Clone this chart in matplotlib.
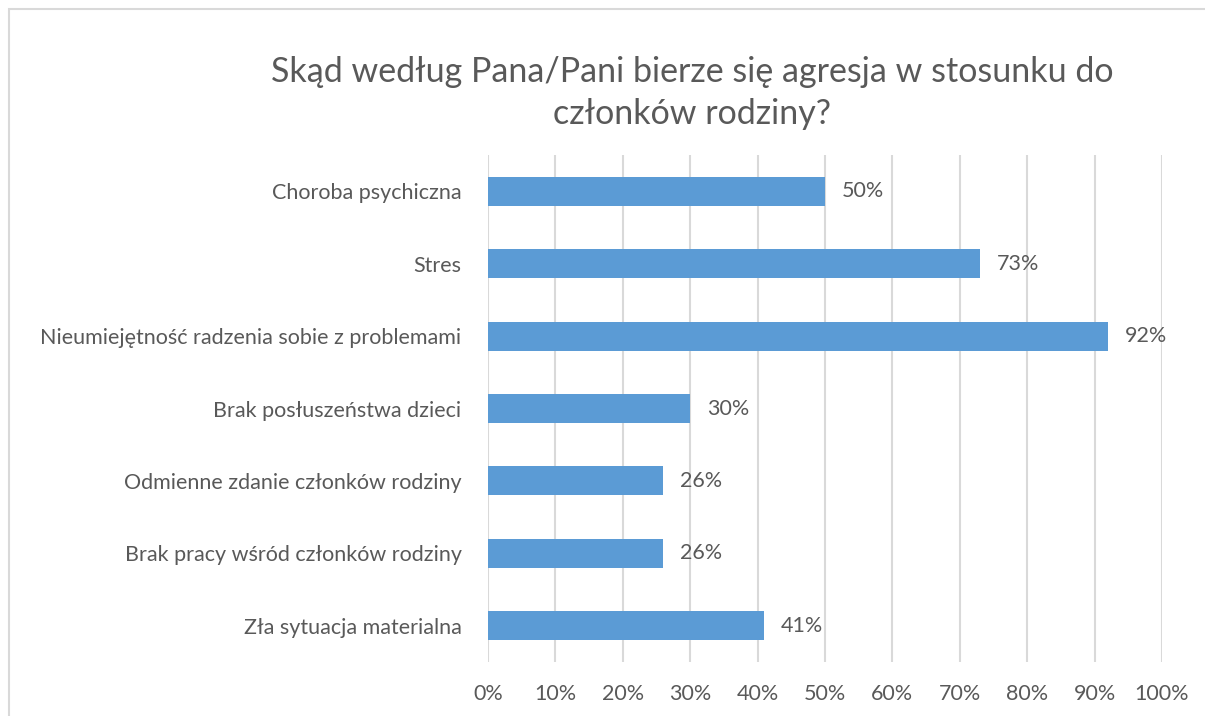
import matplotlib

matplotlib.use("Agg")
import matplotlib.pyplot as plt
from matplotlib.patches import Rectangle

categories = [
    "Choroba psychiczna",
    "Stres",
    "Nieumiejętność radzenia sobie z problemami",
    "Brak posłuszeństwa dzieci",
    "Odmienne zdanie członków rodziny",
    "Brak pracy wśród członków rodziny",
    "Zła sytuacja materialna",
]
values = [50, 73, 92, 30, 26, 26, 41]
xticks = [0, 10, 20, 30, 40, 50, 60, 70, 80, 90, 100]
title = "Skąd według Pana/Pani bierze się agresja w stosunku do\nczłonków rodziny?"

TEXT = "#595959"
BAR = "#5B9BD5"
GRID = "#D9D9D9"

plt.rcParams["font.family"] = ["Lato", "DejaVu Sans"]

fig = plt.figure(figsize=(12.05, 7.16), dpi=100)
fig.patches.append(Rectangle((9 / 1205, -0.1), 1.2, 1 - 9 / 716 + 0.1, transform=fig.transFigure,
                             fill=False, edgecolor=GRID, linewidth=1.5))

ax = fig.add_axes([488 / 1205, 1 - 662 / 716, (1162 - 488) / 1205, (662 - 155) / 716])
y = list(range(len(categories)))
ax.barh(y, values, height=0.4, color=BAR, zorder=2)
ax.set_ylim(len(categories) - 0.5, -0.5)
ax.set_xlim(0, 100)
ax.set_xticks(xticks)
ax.set_xticklabels([f"{t}%" for t in xticks], fontsize=15.5, color=TEXT)
ax.set_yticks(y)
ax.set_yticklabels(categories, fontsize=15.5, color=TEXT)
ax.tick_params(axis="both", length=0)
ax.tick_params(axis="x", pad=16)
ax.tick_params(axis="y", pad=19)
ax.grid(axis="x", color=GRID, linewidth=1.5, zorder=0)
for s in ax.spines.values():
    s.set_visible(False)

for yi, v in zip(y, values):
    ax.annotate(f"{v}%", (v, yi), xytext=(12, 0), textcoords="offset points",
                va="center", ha="left", fontsize=15.5, color=TEXT)

fig.text(692 / 1205, 1 - 93 / 716, title, ha="center", va="center", fontsize=24.5,
         color=TEXT, linespacing=1.36)

fig.savefig("out.png", dpi=100)
